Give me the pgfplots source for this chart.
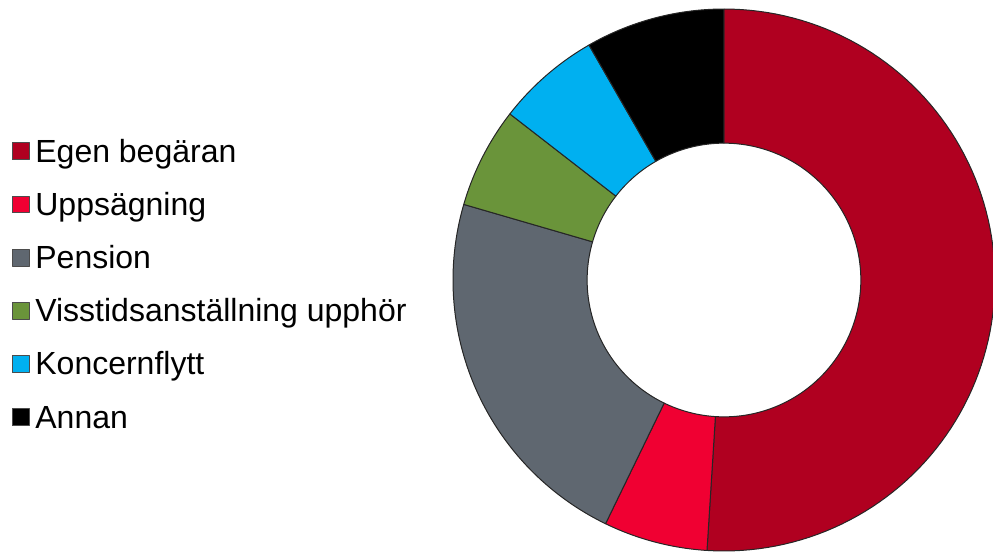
\documentclass[border=0pt]{standalone}
\usepackage{fontspec}
\setmainfont{Liberation Sans}
\usepackage{pgfplots}
\pgfplotsset{compat=1.18}
\definecolor{cEgen}{HTML}{B00020}
\definecolor{cUpps}{HTML}{F00032}
\definecolor{cPens}{HTML}{5F6770}
\definecolor{cViss}{HTML}{6A943A}
\definecolor{cKonc}{HTML}{00B0F0}
\definecolor{cAnn}{HTML}{000000}
% slice: #1 start (percent, cumulative), #2 value (percent), #3 colour, #4 name
\newcommand\slice[4]{%
  \addplot[fill=#3, draw=black!85, line width=0.5pt, line join=round,
    samples at={0,1,...,100,100.001,101,102,...,200,200.001}]
    ({rr(x)*cos(90-3.6*(#1+#2*u(x)))},{rr(x)*sin(90-3.6*(#1+#2*u(x)))});
  \addlegendentry{#4}}
\begin{document}
\begin{tikzpicture}
\useasboundingbox (0,0) rectangle (496.5pt,277pt);
\begin{axis}[
  at={(226.5pt,1.5pt)}, anchor=south west,
  x=135.5pt, y=135.5pt,
  xmin=-1, xmax=1, ymin=-1, ymax=1,
  hide axis, clip=false,
  declare function={
    u(\t)=(\t<=100) ? (\t/100) : ((\t<=200) ? ((200-\t)/100) : 0);
    rr(\t)=(\t<=100) ? 1 : ((\t<=200) ? 0.505 : 1);
  },
  legend cell align=left,
  legend image code/.code={\draw[#1,draw=black!70,line width=0.5pt] (0pt,-2.6pt) rectangle (8.4pt,5.8pt);},
  legend style={at={(-0.8137,0.760)}, anchor=north west, draw=none, fill=none,
    inner sep=0pt, outer sep=0pt, row sep=11.1pt,
    nodes={font=\fontsize{16}{18}\selectfont, text height=11.5pt, text depth=4pt,
      inner ysep=0pt, inner xsep=2.8pt}},
]
\slice{0}{51.0}{cEgen}{Egen begäran}
\slice{51.0}{6.2}{cUpps}{Uppsägning}
\slice{57.2}{22.3}{cPens}{Pension}
\slice{79.5}{6.0}{cViss}{Visstidsanställning upphör}
\slice{85.5}{6.2}{cKonc}{Koncernflytt}
\slice{91.7}{8.3}{cAnn}{Annan}
\end{axis}
\end{tikzpicture}
\end{document}
